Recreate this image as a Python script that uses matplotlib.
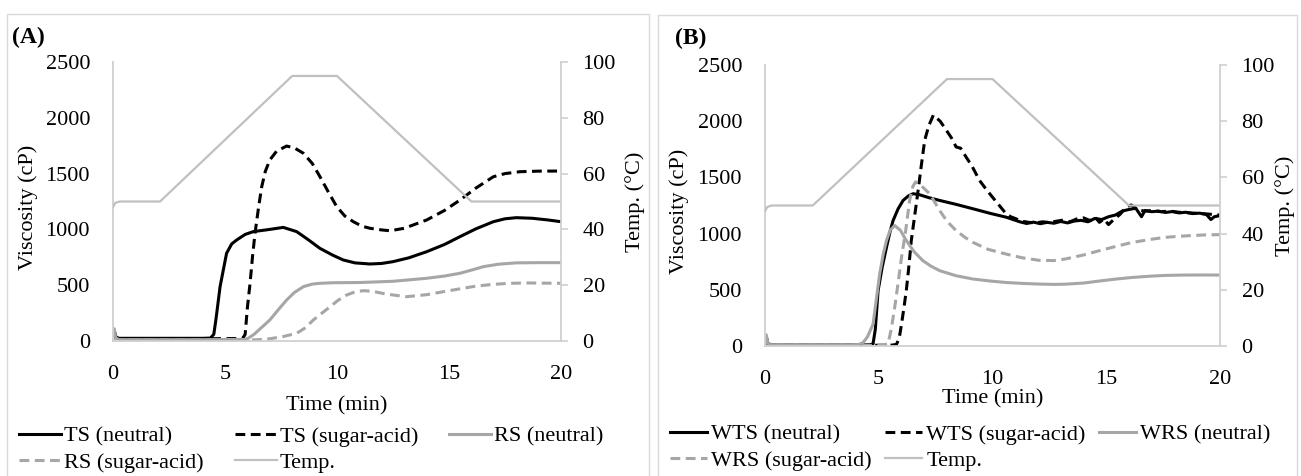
import matplotlib
matplotlib.use("Agg")
import matplotlib.pyplot as plt
from matplotlib.patches import Rectangle

plt.rcParams['font.family'] = ['Liberation Serif', 'DejaVu Serif']
plt.rcParams['font.size'] = 16

# temperature profile (both panels)
temp_t = [0, 0.1, 0.3, 2.1, 8.0, 10.0, 16.0, 20]
temp_v = [48, 49.5, 50, 50, 95, 95, 50, 50]

# ---- panel A ----
ts_n_t = [0, 0.05, 0.12, 0.25, 2, 4, 4.35, 4.5, 4.6, 4.78, 5.07, 5.3, 5.52, 5.9, 6.26, 7.0, 7.6,
          8.2, 8.7, 9.24, 9.8, 10.28, 10.8, 11.47, 12.0, 12.5, 13.2, 14.0, 14.8, 15.49, 16.2,
          16.98, 17.5, 18.0, 18.7, 19.4, 20]
ts_n_v = [30, 100, 40, 24, 24, 24, 26, 60, 200, 487, 786, 870, 905, 955, 980, 1000, 1018,
          980, 910, 830, 770, 726, 700, 690, 695, 711, 745, 800, 865, 935, 1005,
          1069, 1095, 1105, 1100, 1085, 1069]

ts_s_t = [0, 0.05, 0.12, 0.25, 2, 4, 5.5, 5.8, 5.9, 6.0, 6.12, 6.23, 6.34, 6.5, 6.64, 6.8, 7.0,
          7.3, 7.75, 8.1, 8.5, 8.9, 9.24, 9.6, 9.99, 10.35, 10.73, 11.1, 11.47, 12.0, 12.37,
          13.0, 14.0, 14.8, 15.49, 16.2, 16.98, 17.5, 18.17, 19.0, 20]
ts_s_v = [30, 80, 35, 20, 20, 20, 22, 25, 60, 300, 520, 760, 965, 1200, 1383, 1520, 1622,
          1700, 1747, 1730, 1682, 1590, 1472, 1340, 1203, 1120, 1069, 1030, 1010, 995, 988,
          1010, 1084, 1170, 1263, 1370, 1472, 1500, 1517, 1522, 1523]

rs_n_t = [0, 0.05, 0.12, 0.25, 2, 4, 5.9, 6.04, 6.3, 6.6, 7.0, 7.4, 7.75, 8.1, 8.5, 8.9, 9.24,
          9.8, 11.0, 12.5, 14.0, 14.8, 15.49, 16.0, 16.53, 17.2, 18.0, 19.0, 20]
rs_n_v = [20, 110, 30, 12, 12, 12, 14, 25, 60, 115, 188, 285, 367, 435, 487, 510, 517,
          522, 524, 535, 562, 582, 607, 635, 666, 688, 700, 702, 702]

rs_s_t = [0, 0.05, 0.12, 0.25, 2, 4, 6, 6.5, 7.0, 7.6, 8.2, 8.6, 8.94, 9.3, 9.69, 10.05, 10.43,
          10.8, 11.18, 11.6, 12.2, 13.11, 14.0, 14.75, 15.5, 16.24, 17.0, 17.72, 18.5, 20]
rs_s_v = [15, 90, 25, 8, 8, 8, 8, 12, 20, 40, 69, 120, 188, 245, 307, 365, 412,
          440, 451, 445, 420, 397, 415, 442, 468, 493, 508, 517, 520, 517]

# ---- panel B ----
wts_n_t = [0, 0.05, 0.12, 0.25, 2, 4, 4.6, 4.75, 4.85, 4.97, 5.15, 5.34, 5.5, 5.63, 5.85, 6.07,
           6.3, 6.51, 6.8, 7.2, 7.68, 8.4, 9.14, 9.9, 10.6, 11.2, 11.5, 11.8, 12.1, 12.4, 12.7,
           13.0, 13.3, 13.6, 13.9, 14.2, 14.5, 14.8, 15.1, 15.4, 15.7, 16.0, 16.3, 16.55, 16.7,
           17.0, 17.3, 17.6, 17.9, 18.2, 18.5, 18.8, 19.1, 19.4, 19.6, 19.75, 20]
wts_n_v = [20, 90, 30, 8, 8, 8, 10, 20, 150, 491, 700, 878, 1020, 1116, 1220, 1295,
           1335, 1355, 1345, 1320, 1295, 1260, 1221, 1180, 1146, 1105, 1090, 1102, 1088, 1100, 1092,
           1108, 1095, 1112, 1118, 1105, 1135, 1125, 1150, 1165, 1200, 1215, 1225, 1150, 1205,
           1195, 1200, 1188, 1196, 1184, 1190, 1178, 1182, 1170, 1125, 1150, 1160]

wts_s_t = [0, 0.05, 0.12, 0.25, 2, 4, 5.6, 5.78, 5.9, 6.0, 6.1, 6.21, 6.32, 6.43, 6.58, 6.73,
           6.88, 7.02, 7.2, 7.4, 7.7, 7.97, 8.2, 8.4, 8.6, 8.84, 9.1, 9.43, 9.7, 10.0, 10.3,
           10.6, 10.8, 11.04, 11.3, 11.6, 11.9, 12.2, 12.5, 12.8, 13.1, 13.4, 13.7, 14.0, 14.3,
           14.5, 14.7, 14.9, 15.1, 15.3, 15.6, 15.9, 16.1, 16.4, 16.7, 17.0, 17.4, 17.8, 18.2,
           18.6, 19.0, 19.4, 19.7, 20]
wts_s_v = [15, 80, 20, 5, 5, 5, 8, 15, 70, 194, 330, 491, 700, 938, 1160, 1384,
           1620, 1831, 1960, 2054, 2000, 1920, 1850, 1771, 1760, 1681, 1600, 1473, 1400, 1324, 1250,
           1176, 1150, 1131, 1110, 1100, 1095, 1105, 1098, 1110, 1120, 1105, 1130, 1140, 1115,
           1150, 1100, 1130, 1080, 1120, 1170, 1240, 1255, 1210, 1200, 1205, 1195, 1200, 1190,
           1185, 1180, 1175, 1170, 1165]

wrs_n_t = [0, 0.05, 0.12, 0.25, 2, 3.8, 4.1, 4.31, 4.5, 4.75, 5.04, 5.2, 5.34, 5.5, 5.7, 5.95,
           6.21, 6.55, 6.94, 7.3, 7.68, 8.4, 9.14, 9.9, 10.6, 11.3, 12.06, 12.7, 13.2, 14.0,
           14.7, 15.4, 16.15, 17.0, 17.6, 18.35, 19.2, 20]
wrs_n_v = [25, 100, 30, 8, 8, 8, 12, 30, 80, 194, 640, 820, 938, 1030, 1072, 1030,
           938, 840, 759, 710, 670, 625, 596, 578, 565, 557, 551, 548, 550, 560,
           578, 595, 610, 622, 628, 631, 632, 631]

wrs_s_t = [0, 0.05, 0.12, 0.25, 2, 4.5, 5.2, 5.41, 5.55, 5.7, 5.85, 6.0, 6.18, 6.36, 6.5, 6.62,
           6.8, 7.0, 7.24, 7.68, 8.0, 8.4, 8.8, 9.14, 9.8, 10.6, 11.3, 12.06, 12.7, 13.2, 14.0,
           14.7, 15.4, 16.15, 17.0, 17.6, 18.5, 19.3, 20]
wrs_s_v = [15, 70, 20, 5, 5, 5, 8, 20, 150, 342, 560, 788, 1020, 1300, 1420, 1460,
           1440, 1400, 1354, 1205, 1110, 1027, 965, 922, 860, 818, 785, 762, 760, 774, 810,
           848, 885, 922, 950, 967, 980, 988, 991]

BLACK = '#000000'
GRAY = '#a6a6a6'
TEMP = '#c0c0c0'
AXC = '#d0d0d0'
DASH = (0, (3.2, 1.8))

W, H = 1301, 476
fig = plt.figure(figsize=(W / 100, H / 100), dpi=100)

# panel frames
fig.patches.append(Rectangle((7 / W, -0.01), 642 / W, (476 - 14) / H + 0.01,
                             transform=fig.transFigure, fill=False, ec='#d9d9d9', lw=1))
fig.patches.append(Rectangle((658 / W, -0.01), 639 / W, (476 - 15) / H + 0.01,
                             transform=fig.transFigure, fill=False, ec='#d9d9d9', lw=1))


def panel(rect, series, names, tag, tagpos, xlab_y, tlab_x, leg_pos, hlen, hpad, colsp):
    ax = fig.add_axes(rect)
    ax2 = ax.twinx()
    styles = [(BLACK, '-'), (BLACK, DASH), (GRAY, '-'), (GRAY, DASH)]
    handles = []
    for (t, v), (c, ls), nm in zip(series, styles, names):
        h, = ax.plot(t, v, color=c, ls=ls, lw=2.2, label=nm)
        handles.append(h)
    ht, = ax2.plot(temp_t, temp_v, color=TEMP, lw=1.6, label='Temp.')
    handles.append(ht)

    ax.set_xlim(0, 20)
    ax.set_ylim(0, 2500)
    ax2.set_ylim(0, 100)
    ax.set_xticks([0, 5, 10, 15, 20])
    ax.set_yticks(range(0, 2501, 500))
    ax2.set_yticks(range(0, 101, 20))

    for a in (ax, ax2):
        for s in a.spines.values():
            s.set_color(AXC)
            s.set_linewidth(1.3)
        a.spines['top'].set_visible(False)
    ax2.spines['left'].set_visible(False)
    ax2.spines['bottom'].set_visible(False)
    ax.spines['right'].set_visible(False)

    ax.tick_params(axis='y', length=0, pad=16.5, labelsize=16)
    ax.tick_params(axis='x', length=0, pad=17.5, labelsize=16)
    ax2.tick_params(axis='y', length=5, width=1.2, color=AXC, pad=10.5, labelsize=16)

    ax.set_xlabel('Time (min)', fontsize=16)
    ax.xaxis.set_label_coords(0.5, xlab_y)
    ax.set_ylabel('Viscosity (cP)', fontsize=16)
    ax.yaxis.set_label_coords(-0.167, 0.48)
    ax2.set_ylabel('Temp. (°C)', fontsize=16)
    ax2.yaxis.set_label_coords(tlab_x, 0.5)

    fig.text(tagpos[0] / W, 1 - tagpos[1] / H, tag, fontsize=17, fontweight='bold',
             va='center', ha='left')

    # matplotlib fills legend columns first; reorder so rows read like the original
    order = [0, 3, 1, 4, 2]
    ax.legend([handles[i] for i in order], [handles[i].get_label() for i in order],
              ncol=3, loc='upper left', bbox_to_anchor=(leg_pos[0] / W, 1 - leg_pos[1] / H),
              bbox_transform=fig.transFigure, frameon=False, fontsize=16,
              handlelength=hlen, handletextpad=hpad, columnspacing=colsp,
              labelspacing=0.27, borderpad=0, borderaxespad=0)
    return ax


panel([113 / W, 1 - 341 / H, 448 / W, 279 / H],
      [(ts_n_t, ts_n_v), (ts_s_t, ts_s_v), (rs_n_t, rs_n_v), (rs_s_t, rs_s_v)],
      ['TS (neutral)', 'TS (sugar-acid)', 'RS (neutral)', 'RS (sugar-acid)'],
      '(A)', (12, 37), -0.197, 1.143, (19, 426), 1.9, 0.12, 1.4)

panel([765 / W, 1 - 346 / H, 455 / W, 281 / H],
      [(wts_n_t, wts_n_v), (wts_s_t, wts_s_v), (wrs_n_t, wrs_n_v), (wrs_s_t, wrs_s_v)],
      ['WTS (neutral)', 'WTS (sugar-acid)', 'WRS (neutral)', 'WRS (sugar-acid)'],
      '(B)', (675, 38), -0.153, 1.121, (670, 424), 1.65, 0.2, 0.6)

fig.savefig('out.png', dpi=100)
